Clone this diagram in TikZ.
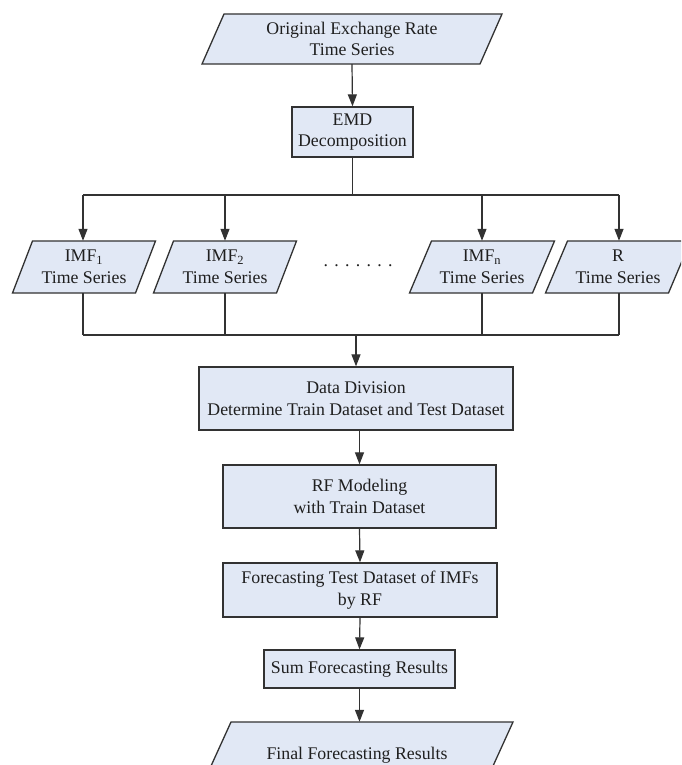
\documentclass[tikz,border=0pt]{standalone}
\usepackage{fontspec}
\setmainfont{Liberation Serif}
\usetikzlibrary{arrows.meta}
\definecolor{boxfill}{RGB}{225,232,245}
\definecolor{lineclr}{RGB}{50,50,50}
\newcommand\paranode[7]{%
  \filldraw[pshape] (#2-#4/2+#6/2, #3-#5/2) -- (#2+#4/2+#6/2, #3-#5/2) -- (#2+#4/2-#6/2, #3+#5/2) -- (#2-#4/2-#6/2, #3+#5/2) -- cycle;
  \node[txt, minimum width=#4, minimum height=#5] (#1) at (#2,#3) {#7};}
\begin{document}
\begin{tikzpicture}[x=1pt,y=-1pt,
  txt/.style={align=center, inner sep=0pt, text=black!88, font=\fontsize{17.8}{21.5}\selectfont},
  box/.style={txt, draw=lineclr, fill=boxfill, line width=1.3pt},
  pshape/.style={draw=lineclr, fill=boxfill, line width=1.3pt, line join=miter},
  conn/.style={draw=lineclr, line width=1.2pt},
  arr/.style={conn, -{Triangle[length=12pt,width=9pt]}}]
\useasboundingbox (0,0) rectangle (681,765);
\fill[white] (0,0) rectangle (681,765);
\clip (0,0) rectangle (681,765);

\paranode{orig}{352}{39}{278}{50}{22}{Original Exchange Rate\\Time Series}
\node[box, minimum width=121, minimum height=50] (emd) at (352.5,132) {EMD\\Decomposition};

\paranode{imf1}{84}{267}{123}{52}{20}{IMF\textsubscript{1}\\Time Series}
\paranode{imf2}{225}{267}{123}{52}{20}{IMF\textsubscript{2}\\Time Series}
\paranode{imfn}{482}{267}{123}{52}{22}{IMF\textsubscript{n}\\Time Series}
\paranode{rts}{618}{267}{123}{52}{22}{R\\Time Series}
\node[txt] (dots) at (358,266) {.\hspace{6.3pt}.\hspace{6.3pt}.\hspace{6.3pt}.\hspace{6.3pt}.\hspace{6.3pt}.\hspace{6.3pt}.};

\node[box, minimum width=314, minimum height=63] (dd) at (356,398.5) {Data Division\\Determine Train Dataset and Test Dataset};
\node[box, minimum width=273, minimum height=63] (rf) at (359.5,496.5) {RF Modeling\\with Train Dataset};
\node[box, minimum width=274, minimum height=54] (fc) at (360,590) {Forecasting Test Dataset of IMFs\\by RF};
\node[box, minimum width=191, minimum height=38] (sum) at (359.5,669) {Sum Forecasting Results};
\paranode{final}{357}{755}{282}{66}{30}{Final Forecasting Results}

\coordinate (bL) at (83,195);
\coordinate (bR) at (619,195);
\coordinate (cL) at (83,335);
\coordinate (cR) at (619,335);

\draw[arr] (orig.south) -- (emd.north);
\draw[conn] (emd.south) -- (emd.south |- bL);
\draw[conn] (bL) -- (bR);
\draw[arr] (bL) -- (bL |- imf1.north);
\draw[arr] (imf2.north |- bL) -- (imf2.north);
\draw[arr] (imfn.north |- bL) -- (imfn.north);
\draw[arr] (bR) -- (bR |- rts.north);

\draw[conn] (cL |- imf1.south) -- (cL);
\draw[conn] (imf2.south) -- (imf2.south |- cL);
\draw[conn] (imfn.south) -- (imfn.south |- cL);
\draw[conn] (cR |- rts.south) -- (cR);
\draw[conn] (cL) -- (cR);
\draw[arr] (dd.north |- cL) -- (dd.north);

\draw[arr] (rf.north |- dd.south) -- (rf.north);
\draw[arr] (rf.south) -- (fc.north);
\draw[arr] (fc.south) -- (sum.north);
\draw[arr] (sum.south) -- (sum.south |- final.north);
\end{tikzpicture}
\end{document}
